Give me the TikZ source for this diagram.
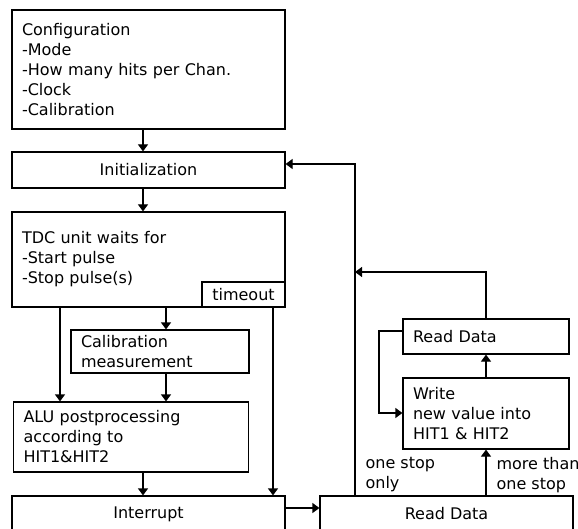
\documentclass[tikz,border=0pt]{standalone}
\usepackage{fontspec}
\setmainfont{DejaVu Sans}
\usetikzlibrary{arrows.meta}

\begin{document}
\begin{tikzpicture}[x=1pt, y=-1pt, line width=1.2pt, >={Triangle[length=7pt,width=10pt]},
	font=\fontsize{16}{20}\selectfont,
	box/.style={draw, inner xsep=10pt, inner ysep=0pt, align=left},
	cbox/.style={draw, inner sep=0pt, align=center},
	lbl/.style={anchor=north west, inner sep=0pt, align=left}]
\useasboundingbox (0,0) rectangle (578,529);
\node[box, text width=253pt, minimum height=119pt] (conf) at (148.5,69.5) {Configuration\\-Mode\\-How many hits per Chan.\\-Clock\\-Calibration};
\node[cbox, minimum width=273pt, minimum height=36pt] (init) at (148.5,170) {Initialization};
\node[box, text width=253pt, minimum height=95pt] (tdc) at (148.5,259.5) {TDC unit waits for\\-Start pulse\\-Stop pulse(s)};
\node[cbox, minimum width=83pt, minimum height=25pt] (tout) at (243.5,294.5) {timeout};
\node[box, text width=158pt, minimum height=43pt] (cal) at (160,351.5) {Calibration\\measurement};
\node[box, text width=215pt, minimum height=70pt] (alu) at (131,437) {ALU postprocessing\\according to\\HIT1\&HIT2};
\node[cbox, minimum width=273pt, minimum height=36pt] (intr) at (148.5,514) {Interrupt};
\node[cbox, minimum width=253pt, minimum height=36pt] (rd) at (446.5,514) {Read Data};
\node[box, text width=146pt, minimum height=35pt] (rd2) at (486,336.5) {Read Data};
\node[box, text width=146pt, minimum height=71pt] (wr) at (486,413.5) {Write\\new value into\\HIT1 \& HIT2};
\node[lbl] (one) at (365,457) {one stop\\only};
\node[lbl] (more) at (496,457) {more than\\one stop};
% columns and rows of the connectors
\coordinate (xa) at (60,0);
\coordinate (xb) at (166,0);
\coordinate (xc) at (273,0);
\coordinate (xm) at (143,0);
\coordinate (xr) at (355,0);
\coordinate (xw) at (486,0);
\coordinate (xl) at (379,0);
\coordinate (yi) at (0,164);
\coordinate (yr) at (0,272);
\coordinate (yo) at (0,331);
\coordinate (yw) at (0,413);
\coordinate (yq) at (0,508);
\draw[->] (conf.south -| xm) -- (init.north -| xm);
\draw[->] (init.south -| xm) -- (tdc.north -| xm);
\draw[->] (tdc.south -| xa) -- (alu.north -| xa);
\draw[->] (tdc.south -| xb) -- (cal.north -| xb);
\draw[->] (cal.south -| xb) -- (alu.north -| xb);
\draw[->] (tout.south -| xc) -- (intr.north -| xc);
\draw[->] (alu.south -| xm) -- (intr.north -| xm);
\draw[->] (intr.east |- yq) -- (rd.west |- yq);
\draw[->] (rd.north -| xr) -- (xr |- yi) -- (init.east |- yi);
\draw[->] (rd.north -| xw) -- (wr.south -| xw);
\draw[->] (wr.north -| xw) -- (rd2.south -| xw);
\draw[->] (rd2.north -| xw) -- (xw |- yr) -- (xr |- yr);
\draw[->] (rd2.west |- yo) -- (xl |- yo) -- (xl |- yw) -- (wr.west |- yw);
\end{tikzpicture}
\end{document}
